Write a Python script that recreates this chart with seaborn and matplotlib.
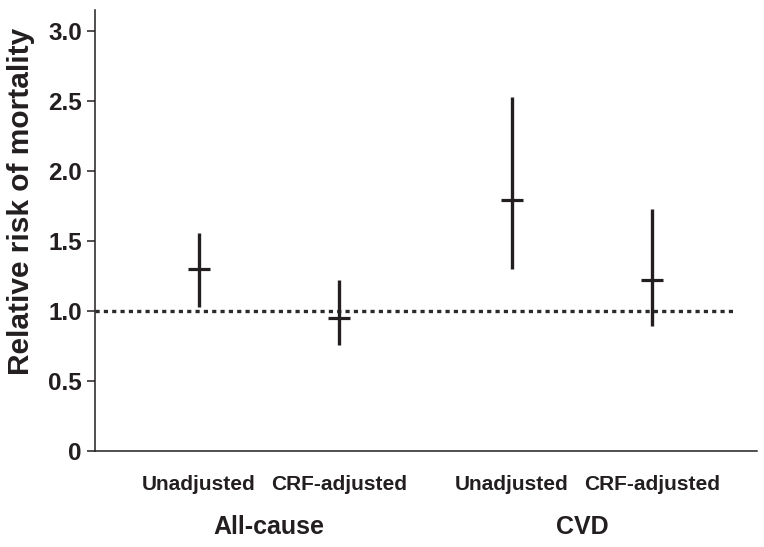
import numpy as np
import pandas as pd
import matplotlib
matplotlib.use("Agg")
import matplotlib.pyplot as plt
import matplotlib.transforms as mtransforms
import seaborn as sns

# ---- data ----
groups = ["All-cause", "All-cause", "CVD", "CVD"]
models = ["Unadjusted", "CRF-adjusted", "Unadjusted", "CRF-adjusted"]
rr = [1.30, 0.95, 1.79, 1.22]
rr_low = [1.03, 0.76, 1.30, 0.89]
rr_high = [1.56, 1.22, 2.53, 1.73]
y_ticks = [0, 0.5, 1.0, 1.5, 2.0, 2.5, 3.0]
y_tick_labels = ["0", "0.5", "1.0", "1.5", "2.0", "2.5", "3.0"]
group_names = ["All-cause", "CVD"]
reference_level = 1.0

sns.set_style("white")
plt.rcParams["font.family"] = ["Liberation Sans", "DejaVu Sans"]
plt.rcParams["font.weight"] = "bold"

INK = "#231f20"

# layout: 1 unit between models within a group, 1.236 units between groups
group_step = 2.236
pos = []
counts = {}
for g in groups:
    k = counts.get(g, 0)
    pos.append(group_names.index(g) * group_step + k)
    counts[g] = k + 1

df = pd.DataFrame({"group": groups, "model": models, "rr": rr,
                   "low": rr_low, "high": rr_high, "x": np.array(pos, float)})

fig = plt.figure(figsize=(7.64, 5.47), dpi=100)
ax = fig.add_axes([95 / 764, 1 - 451 / 547, 662 / 764, 441 / 547])

# confidence intervals
ax.vlines(df["x"], df["low"], df["high"], color=INK, linewidth=2.4, zorder=3)
# point estimates
sns.scatterplot(data=df, x="x", y="rr", marker="_", s=240, color=INK,
                linewidth=2.3, ax=ax, zorder=4, legend=False)

# reference line
ax.axhline(reference_level, xmin=0, xmax=0.967, color="#2a2a2a",
           linewidth=2.4, linestyle=(0, (1.25, 1.25)), dash_capstyle="butt",
           zorder=2)

ax.set_xlim(-104 / 140, 558 / 140)
ax.set_ylim(0, 3.15)

ax.set_yticks(y_ticks)
ax.set_yticklabels(y_tick_labels)
ax.set_xticks(df["x"])
ax.set_xticklabels(df["model"])

ax.tick_params(axis="y", which="major", direction="out", length=6,
               width=1.1, color=INK, labelsize=17.5, pad=3.5, labelcolor=INK,
               left=True)
ax.tick_params(axis="x", which="major", length=0, labelsize=15, pad=17,
               labelcolor=INK)
for lab in ax.get_xticklabels() + ax.get_yticklabels():
    lab.set_fontweight("bold")

for side in ["top", "right"]:
    ax.spines[side].set_visible(False)
for side in ["left", "bottom"]:
    ax.spines[side].set_color(INK)
    ax.spines[side].set_linewidth(1.1)

ax.set_xlabel("")
ax.set_ylabel("Relative risk of mortality", fontsize=21.5, fontweight="bold",
              color=INK)
ax.yaxis.set_label_coords(-0.09, 0.567)

# group labels
trans = mtransforms.blended_transform_factory(ax.transData, fig.transFigure)
for g in group_names:
    gx = df.loc[df["group"] == g, "x"].mean()
    ax.text(gx, 1 - 527 / 547, g, transform=trans, ha="center", va="center",
            fontsize=18, fontweight="bold", color=INK)

fig.savefig("out.png", dpi=100)
